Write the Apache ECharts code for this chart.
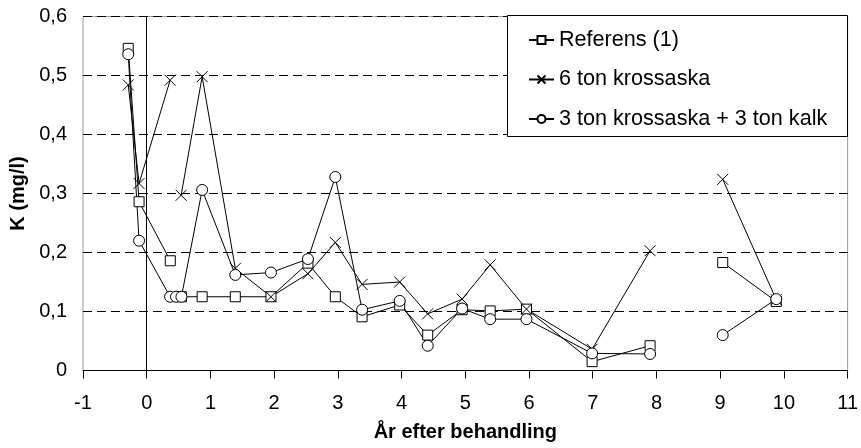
<!DOCTYPE html>
<html>
<head>
<meta charset="utf-8">
<script src="https://cdn.jsdelivr.net/npm/echarts@6/dist/echarts.min.js"></script>
<style>html,body{margin:0;padding:0;background:#fff}#c{width:861px;height:448px}</style>
</head>
<body>
<div id="c"></div>
<script>
var seriesNames = ['Referens (1)', '6 ton krossaska', '3 ton krossaska + 3 ton kalk'];
var xTicks = [-1, 0, 1, 2, 3, 4, 5, 6, 7, 8, 9, 10, 11];
var yTicks = [0, 0.1, 0.2, 0.3, 0.4, 0.5, 0.6];

// sampling times (years after treatment); null entries in values mark gaps
var refX  = [-0.29, -0.12, 0.37, 0.45, 0.545, 0.87, 1.39, 1.95, 2.53, 2.96, 3.38, 3.97, 4.41, 4.95, 5.39, 5.96, 6.99, 7.9, 8.5, 9.04, 9.88];
var refY  = [0.546, 0.286, 0.186, null, 0.125, 0.125, 0.125, 0.125, 0.182, 0.125, 0.091, 0.111, 0.060, 0.103, 0.101, 0.104, 0.015, 0.042, null, 0.183, 0.117];

var ashX  = [-0.29, -0.12, 0.367, 0.45, 0.54, 0.87, 1.39, 1.95, 2.53, 2.96, 3.38, 3.97, 4.41, 4.95, 5.39, 5.96, 6.99, 7.9, 8.5, 9.04, 9.88];
var ashY  = [0.484, 0.317, 0.492, null, 0.297, 0.498, 0.173, 0.125, 0.164, 0.217, 0.146, 0.150, 0.096, 0.121, 0.179, 0.104, 0.036, 0.203, null, 0.324, 0.120];

var mixX  = [-0.29, -0.12, 0.367, 0.46, 0.545, 0.87, 1.39, 1.95, 2.53, 2.96, 3.38, 3.97, 4.41, 4.95, 5.39, 5.96, 6.99, 7.9, 8.5, 9.04, 9.88];
var mixY  = [0.536, 0.220, 0.125, 0.125, 0.125, 0.306, 0.162, 0.166, 0.189, 0.328, 0.103, 0.118, 0.042, 0.105, 0.087, 0.087, 0.029, 0.028, null, 0.060, 0.121];

function pairs(xs, ys) {
  return xs.map(function (x, i) { return ys[i] === null ? [x, '-'] : [x, ys[i]]; });
}

var FONT = 'Liberation Sans, Arial, sans-serif';
var crossPath = 'path://M0,0L10,10M10,0L0,10';

function mkSeries(name, data, symbol, size, fill) {
  return {
    name: name, type: 'line', data: data,
    connectNulls: false,
    symbol: symbol, symbolSize: size, showAllSymbol: true,
    lineStyle: { color: '#000', width: 1 },
    itemStyle: { color: fill, borderColor: '#000', borderWidth: 1 },
    emphasis: { disabled: true },
    animation: false
  };
}

var chart = echarts.init(document.getElementById('c'));
chart.setOption({
  animation: false,
  backgroundColor: '#fff',
  textStyle: { fontFamily: FONT },
  grid: { left: 83, right: 13, top: 16.5, bottom: 77.5, show: true, borderColor: '#999', borderWidth: 1 },
  graphic: [{
    type: 'rect', z: 50, silent: true,
    shape: { x: 507.5, y: 15.5, width: 340, height: 121 },
    style: { fill: '#fff', stroke: '#000', lineWidth: 1 }
  }],
  legend: {
    z: 60,
    orient: 'vertical', left: 507, top: 15,
    padding: [14, 10, 10, 21],
    itemGap: 17.5, itemWidth: 25, itemHeight: 10,
    textStyle: { fontSize: 21.6, lineHeight: 21, color: '#000', fontFamily: FONT },
    data: seriesNames
  },
  xAxis: {
    type: 'value', min: xTicks[0], max: xTicks[xTicks.length - 1], interval: 1,
    name: 'År efter behandling', nameLocation: 'middle', nameGap: 52,
    nameTextStyle: { fontSize: 20, fontWeight: 'bold', color: '#000', fontFamily: FONT },
    axisLine: { onZero: false, lineStyle: { color: '#000', width: 1 } },
    axisTick: { show: true, length: 8, inside: false, lineStyle: { color: '#000' } },
    axisLabel: { fontSize: 20, color: '#000', margin: 23, fontFamily: FONT },
    splitLine: { show: false }
  },
  yAxis: [{
    type: 'value', min: yTicks[0], max: yTicks[yTicks.length - 1], interval: 0.1,
    name: 'K (mg/l)', nameLocation: 'middle', nameGap: 47,
    nameTextStyle: { fontSize: 20, fontWeight: 'bold', color: '#000', fontFamily: FONT },
    axisLine: { show: false, onZero: false },
    axisTick: { show: false },
    axisLabel: { fontSize: 20, color: '#000', margin: 16, fontFamily: FONT,
      formatter: function (v) { return v === 0 ? '0' : v.toFixed(1).replace('.', ','); } },
    splitLine: { show: true, lineStyle: { color: '#000', width: 1, type: [9, 5] } }
  }, {
    type: 'value', min: yTicks[0], max: yTicks[yTicks.length - 1], interval: 0.1,
    position: 'left',
    axisLine: { show: true, onZero: true, lineStyle: { color: '#000', width: 1 } },
    axisTick: { show: true, length: 6, inside: false, lineStyle: { color: '#000' } },
    axisLabel: { show: false },
    splitLine: { show: false }
  }],
  series: [
    mkSeries(seriesNames[0], pairs(refX, refY), 'rect', 10, '#fff'),
    mkSeries(seriesNames[1], pairs(ashX, ashY), crossPath, 11, 'rgba(0,0,0,0)'),
    mkSeries(seriesNames[2], pairs(mixX, mixY), 'circle', 11, '#fff')
  ]
});
</script>
</body>
</html>
